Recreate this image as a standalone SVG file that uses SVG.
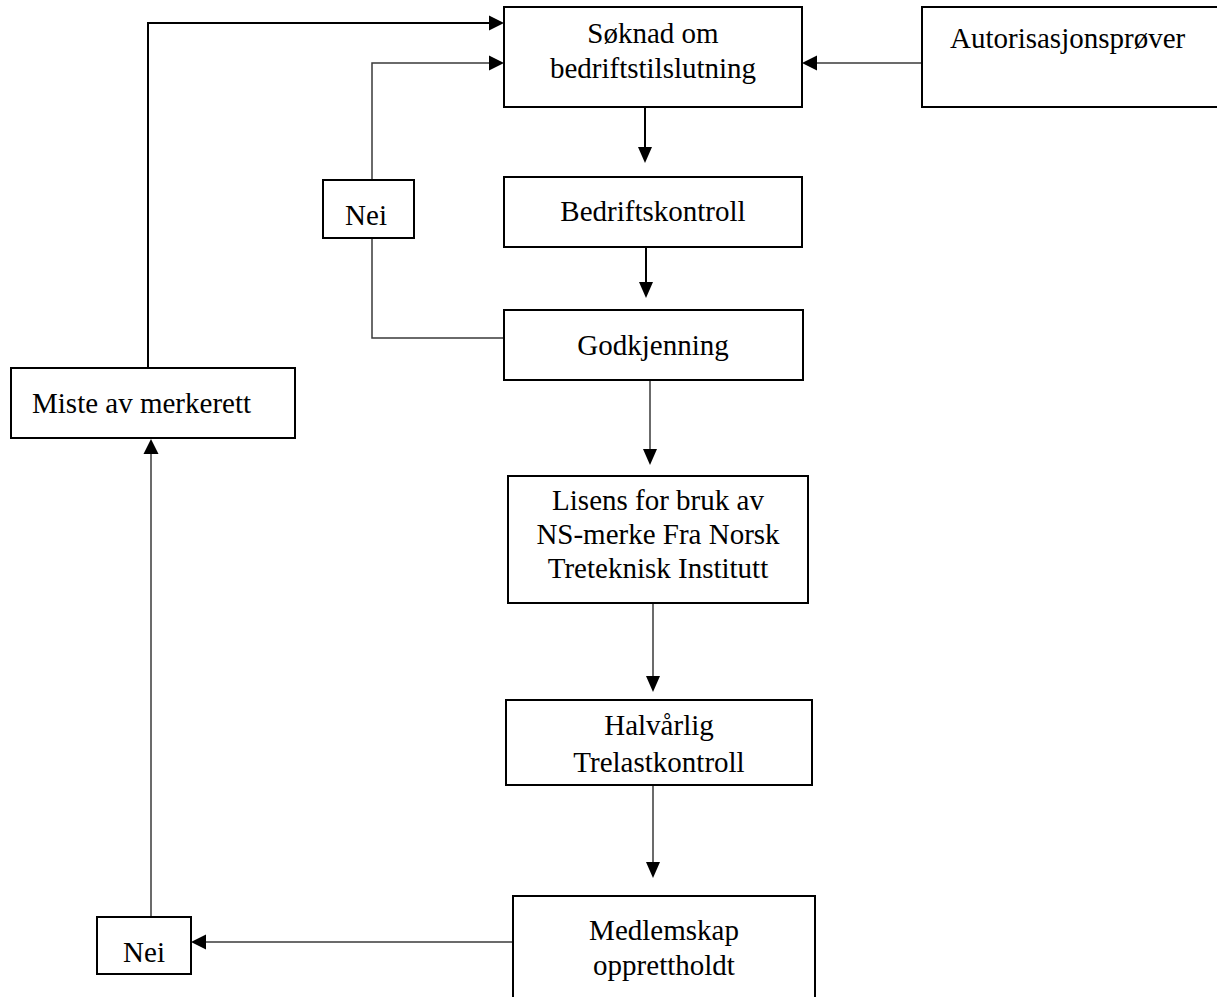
<svg xmlns="http://www.w3.org/2000/svg" width="1217" height="997" viewBox="0 0 1217 997">
<style>
.box{fill:#fff;stroke:#000;stroke-width:2}
.t{font-family:"Liberation Serif","Times New Roman",serif;font-size:29px;fill:#000}
.c{text-anchor:middle}
.k{fill:none;stroke:#000;stroke-width:2}
.g{fill:none;stroke:#3a3a3a;stroke-width:1.5}
.ah{fill:#000}
</style>
<rect width="1217" height="997" fill="#fff"/>
<g id="connectors">
<polyline class="k" points="148,368 148,23 490,23"/>
<polygon class="ah" points="504,23 489,15.5 489,30.5"/>
<polyline class="g" points="372,180 372,63 490,63"/>
<polygon class="ah" points="504,63 489,55.5 489,70.5"/>
<polyline class="g" points="372,238 372,338 504,338"/>
<line class="g" x1="922" y1="63" x2="816" y2="63"/>
<polygon class="ah" points="802,63 817,55.5 817,70.5"/>
<line class="k" x1="645" y1="107" x2="645" y2="148"/>
<polygon class="ah" points="645,163 638,147 652,147"/>
<line class="k" x1="646" y1="247" x2="646" y2="283"/>
<polygon class="ah" points="646,298 639,282 653,282"/>
<line class="g" x1="650" y1="380" x2="650" y2="450"/>
<polygon class="ah" points="650,465 643,449 657,449"/>
<line class="g" x1="653" y1="603" x2="653" y2="677"/>
<polygon class="ah" points="653,692 646,676 660,676"/>
<line class="g" x1="653" y1="785" x2="653" y2="863"/>
<polygon class="ah" points="653,878 646,862 660,862"/>
<line class="g" x1="513" y1="942" x2="205" y2="942"/>
<polygon class="ah" points="191,942 206,934.5 206,949.5"/>
<line class="g" x1="151" y1="917" x2="151" y2="453"/>
<polygon class="ah" points="151,439 143.5,454 158.5,454"/>
</g>
<g id="soknad">
<rect class="box" x="504" y="7" width="298" height="100"/>
<text class="t c" x="653" y="43">Søknad om</text>
<text class="t c" x="653" y="78">bedriftstilslutning</text>
</g>
<g id="autorisasjon">
<rect class="box" x="922" y="7" width="300" height="100"/>
<text class="t" x="950" y="48">Autorisasjonsprøver</text>
</g>
<g id="bedriftskontroll">
<rect class="box" x="504" y="177" width="298" height="70"/>
<text class="t c" x="653" y="221">Bedriftskontroll</text>
</g>
<g id="nei1">
<rect class="box" x="323" y="180" width="91" height="58"/>
<text class="t c" x="366" y="225">Nei</text>
</g>
<g id="godkjenning">
<rect class="box" x="504" y="310" width="299" height="70"/>
<text class="t c" x="653" y="355">Godkjenning</text>
</g>
<g id="miste">
<rect class="box" x="11" y="368" width="284" height="70"/>
<text class="t" x="32" y="413">Miste av merkerett</text>
</g>
<g id="lisens">
<rect class="box" x="508" y="476" width="300" height="127"/>
<text class="t c" x="658" y="510">Lisens for bruk av</text>
<text class="t c" x="658" y="544">NS-merke Fra Norsk</text>
<text class="t c" x="658" y="578">Treteknisk Institutt</text>
</g>
<g id="halvarlig">
<rect class="box" x="506" y="700" width="306" height="85"/>
<text class="t c" x="659" y="735">Halvårlig</text>
<text class="t c" x="659" y="772">Trelastkontroll</text>
</g>
<g id="medlemskap">
<rect class="box" x="513" y="896" width="302" height="120"/>
<text class="t c" x="664" y="940">Medlemskap</text>
<text class="t c" x="664" y="975">opprettholdt</text>
</g>
<g id="nei2">
<rect class="box" x="97" y="917" width="94" height="57"/>
<text class="t c" x="144" y="962">Nei</text>
</g>
</svg>
